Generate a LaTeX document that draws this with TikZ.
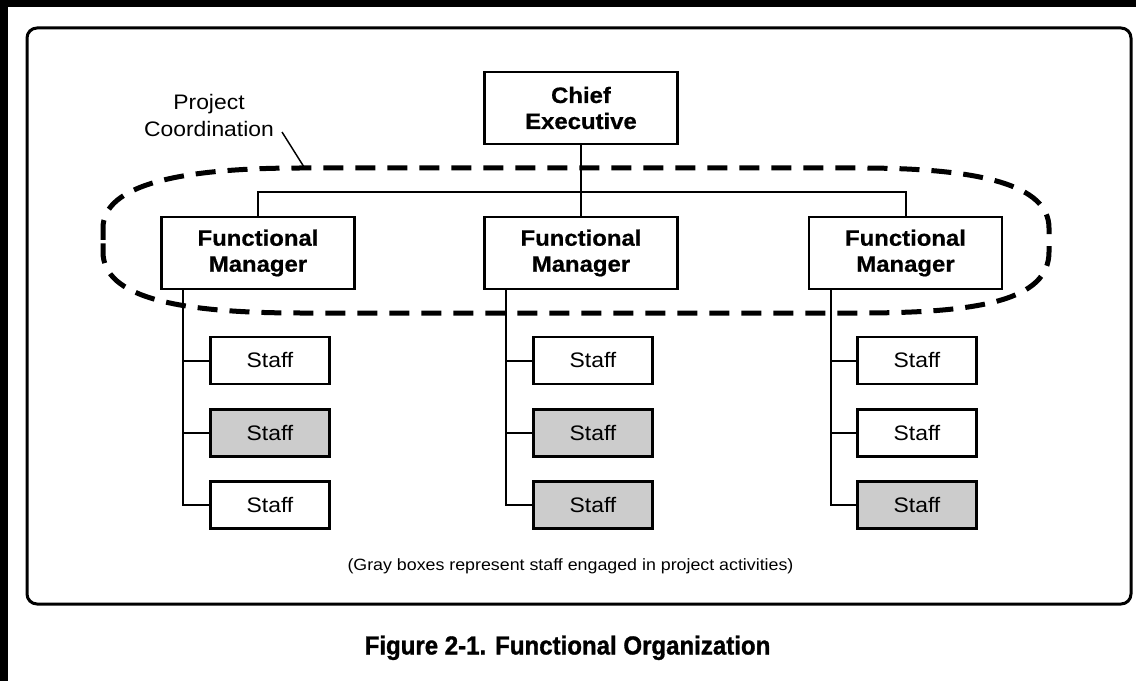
\documentclass[tikz,border=0pt]{standalone}
\usepackage{fontspec}
\setmainfont{Liberation Sans}[FakeStretch=1.09]
\newfontfamily\headfont{Liberation Sans Bold}[FakeStretch=1.07, FakeBold=0.6]
\newfontfamily\capfont{Liberation Sans Bold}[FakeStretch=0.92, FakeBold=1.2]
\begin{document}
\begin{tikzpicture}[x=0.75pt, y=-0.75pt,
  mgrbox/.style={draw, line width=1.8pt, fill=white, inner sep=0pt,
    minimum width=144.75pt, minimum height=54pt, align=center,
    font=\headfont\fontsize{16.75}{19.5}\selectfont},
  staffbox/.style={draw, line width=1.8pt, fill=white, inner sep=0pt,
    minimum width=89.25pt, minimum height=35.25pt,
    font=\fontsize{15.75}{19}\selectfont},
  active/.style={fill=black!20},
  link/.style={line width=1.5pt},
  coord/.style={line width=3.75pt, dash pattern=on 15pt off 9pt},
  note/.style={font=\fontsize{15.75}{20}\selectfont, align=center, inner sep=0pt}]

\useasboundingbox (0,0) rectangle (1136,681);
% page edge bars
\fill[black] (0,0) rectangle (1136,7);
\fill[black] (0,0) rectangle (8,681);
% outer frame
\draw[line width=2.25pt, rounded corners=7.5pt] (27,28) rectangle (1131,604);

% managers
\node[mgrbox] (ceo) at (581,108) {Chief\\Executive};
\node[mgrbox] (fm1) at (258,253) {Functional\\Manager};
\node[mgrbox] (fm2) at (581,253) {Functional\\Manager};
\node[mgrbox] (fm3) at (905.5,253) {Functional\\Manager};

% staff
\node[staffbox]        (s11) at (270,360.5) {Staff};
\node[staffbox,active] (s12) at (270,433)   {Staff};
\node[staffbox]        (s13) at (270,505)   {Staff};
\node[staffbox]        (s21) at (593,360.5) {Staff};
\node[staffbox,active] (s22) at (593,433)   {Staff};
\node[staffbox,active] (s23) at (593,505)   {Staff};
\node[staffbox]        (s31) at (917,360.5) {Staff};
\node[staffbox]        (s32) at (917,433)   {Staff};
\node[staffbox,active] (s33) at (917,505)   {Staff};

% reporting lines
\draw[link] (ceo.south) -- (fm2.north);
\draw[link] (fm1.north) -- ++(0,-24) -| (fm3.north);
\foreach \c in {1,2,3}{
  \coordinate (b\c) at ([xshift=17.25pt]fm\c.south west);
  \draw[link] (b\c) |- (s\c3.west);
  \draw[link] (s\c1.west) -- (s\c1.west -| b\c);
  \draw[link] (s\c2.west) -- (s\c2.west -| b\c);
}

% project coordination loop around the managers
\draw[coord] (103,240) -- (103,228)
  .. controls (103,185) and (180,168) .. (300,168)
  -- (860,168)
  .. controls (980,168) and (1049,185) .. (1049,228)
  -- (1049,252)
  .. controls (1049,300) and (980,313) .. (860,313)
  -- (300,313)
  .. controls (180,313) and (103,298) .. (103,252) -- cycle;

\node[note] (pc) at (209,115.5) {Project\\Coordination};
\coordinate (lt) at (282,132);
\coordinate (lh) at (304,167);
\draw[line width=1.1pt] (lt) -- (lh);

\node[anchor=base, inner sep=0pt, font=\fontsize{12.25}{14}\selectfont] (key)
  at (570.5,570.5) {(Gray boxes represent staff engaged in project activities)};

\node[anchor=base, inner sep=0pt, font=\capfont\fontsize{19.6}{22}\selectfont] (title)
  at (567.5,654.5) {Figure 2-1. Functional Organization};
\end{tikzpicture}
\end{document}
